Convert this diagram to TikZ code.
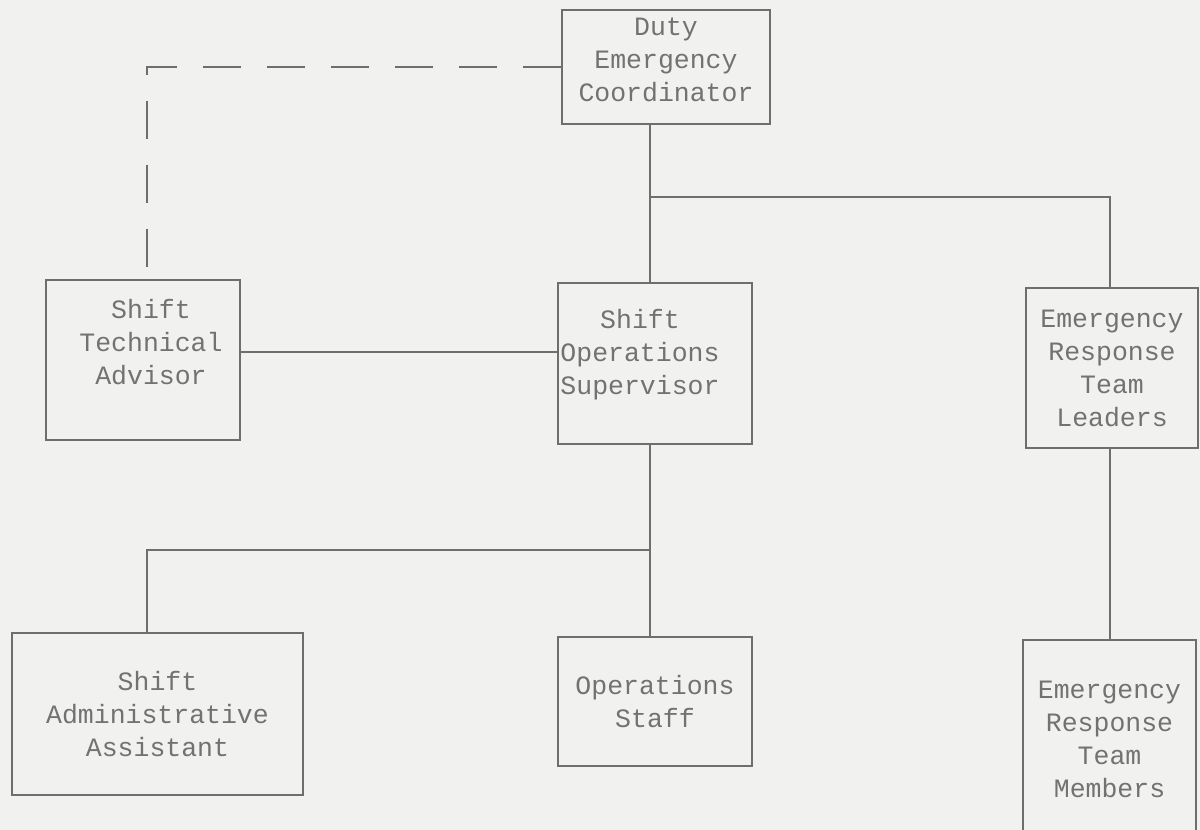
\documentclass[tikz,border=0pt]{standalone}
\usepackage{fontspec}
\setmonofont{Liberation Mono}
\usepackage{xcolor}
\usepackage{tikz}
\usetikzlibrary{positioning,calc}
\definecolor{paper}{HTML}{F1F1EF}
\definecolor{ink}{HTML}{6E6E6E}
\definecolor{txt}{HTML}{727272}
\tikzset{
  orgbox/.style={draw=ink,line width=1.1pt,inner sep=0pt,align=center,text=txt,font=\ttfamily\fontsize{26.5}{33}\selectfont},
  lnk/.style={draw=ink,line width=1.1pt},
  dlnk/.style={draw=ink,line width=1.6pt,dash pattern=on 38pt off 26pt},
}
% text set off-centre inside its box: x shift, y shift, lines
\newcommand{\boxtext}[3]{\kern#1\raisebox{#2}[\height][\depth]{\begin{tabular}{@{}c@{}}#3\end{tabular}}\kern-#1}

\begin{document}
\begin{tikzpicture}[x=1pt,y=-1pt]
  \fill[paper] (0,0) rectangle (1200,830);
  \useasboundingbox (0,0) rectangle (1200,830);
  \node[orgbox,minimum width=208pt,minimum height=114pt] (dec) at (666,67) {\boxtext{0pt}{5pt}{Duty\\Emergency\\Coordinator}};
  \node[orgbox,minimum width=194pt,minimum height=160pt] (sta) at (143,360) {\boxtext{8pt}{15pt}{Shift\\Technical\\Advisor}};
  \node[orgbox,minimum width=194pt,minimum height=161pt] (sos) at (655,363.5) {\boxtext{-15pt}{9pt}{Shift\\Operations\\Supervisor}};
  \node[orgbox,minimum width=172pt,minimum height=160pt] (ertl) at (1112,368) {Emergency\\Response\\Team\\Leaders};
  \node[orgbox,minimum width=291pt,minimum height=162pt] (saa) at (157.5,714) {Shift\\Administrative\\Assistant};
  \node[orgbox,minimum width=194pt,minimum height=129pt] (ops) at (655,701.5) {Operations\\Staff};
  \node[orgbox,minimum width=173pt,minimum height=198pt] (ertm) at (1109.5,739) {Emergency\\Response\\Team\\Members};
  \coordinate (j1) at (650,197);
  \coordinate (j2) at (650,550);
  \coordinate (tip) at (147,270);
  \draw[lnk] (j1 |- dec.south) -- (j1 |- sos.north);
  \draw[lnk] (j1) -| ([xshift=-2pt]ertl.north);
  \draw[lnk] ([yshift=8pt]sta.east) -- ([yshift=8pt]sta.east -| sos.west);
  \draw[lnk] (j2 |- sos.south) -- (j2 |- ops.north);
  \draw[lnk] (j2) -| ([xshift=-10.5pt]saa.north);
  \draw[lnk] ([xshift=-2pt]ertl.south) -- ([xshift=-2pt]ertl.south |- ertm.north);
  \draw[dlnk] (dec.west) -| (tip);
\end{tikzpicture}
\end{document}
